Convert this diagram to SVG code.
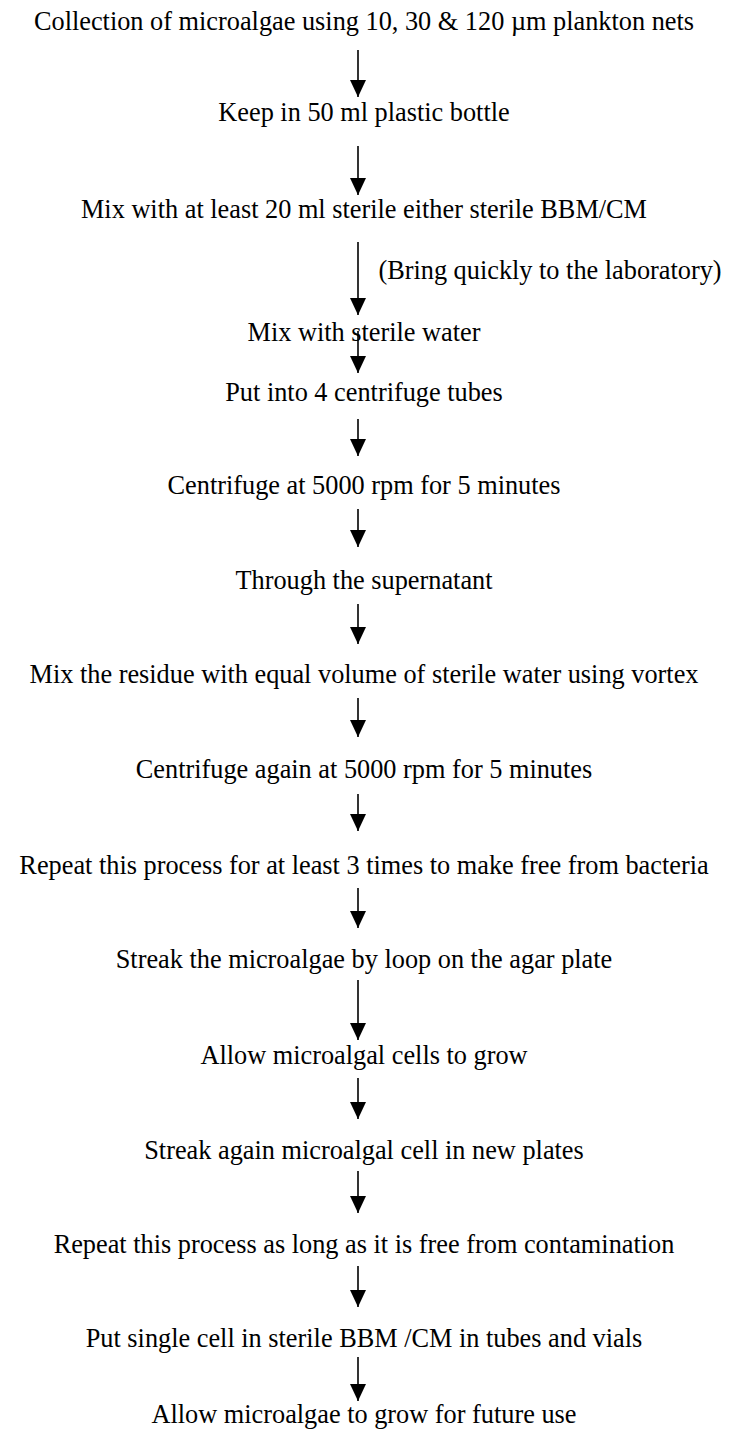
<svg xmlns="http://www.w3.org/2000/svg" width="730" height="1432" viewBox="0 0 730 1432">
<style>
text{font-family:"Liberation Serif","Times New Roman",serif;font-size:26.3px;fill:#000;text-anchor:middle}
.c line{stroke:#000;stroke-width:1.6}
</style>
<defs>
<marker id="ah" viewBox="0 0 17 16" refX="17" refY="8" markerWidth="17" markerHeight="16" markerUnits="userSpaceOnUse" orient="auto">
<path d="M0,0 L17,8 L0,16 Z" fill="#000"/>
</marker>
</defs>
<rect width="730" height="1432" fill="#fff"/>
<g id="n1"><text x="364" y="30">Collection of microalgae using 10, 30 &amp; 120 µm plankton nets</text></g>
<g id="n2"><text x="364" y="121">Keep in 50 ml plastic bottle</text></g>
<g id="n3"><text x="364" y="218">Mix with at least 20 ml sterile either sterile BBM/CM</text></g>
<g id="n4"><text x="550" y="279">(Bring quickly to the laboratory)</text></g>
<g id="n5"><text x="364" y="341">Mix with sterile water</text></g>
<g id="n6"><text x="364" y="401">Put into 4 centrifuge tubes</text></g>
<g id="n7"><text x="364" y="494">Centrifuge at 5000 rpm for 5 minutes</text></g>
<g id="n8"><text x="364" y="589">Through the supernatant</text></g>
<g id="n9"><text x="364" y="683">Mix the residue with equal volume of sterile water using vortex</text></g>
<g id="n10"><text x="364" y="778">Centrifuge again at 5000 rpm for 5 minutes</text></g>
<g id="n11"><text x="364" y="874">Repeat this process for at least 3 times to make free from bacteria</text></g>
<g id="n12"><text x="364" y="968">Streak the microalgae by loop on the agar plate</text></g>
<g id="n13"><text x="364" y="1064">Allow microalgal cells to grow</text></g>
<g id="n14"><text x="364" y="1159">Streak again microalgal cell in new plates</text></g>
<g id="n15"><text x="364" y="1253">Repeat this process as long as it is free from contamination</text></g>
<g id="n16"><text x="364" y="1347">Put single cell in sterile BBM /CM in tubes and vials</text></g>
<g id="n17"><text x="364" y="1423">Allow microalgae to grow for future use</text></g>
<g id="connectors" class="c">
<line x1="358" y1="50" x2="358" y2="97" marker-end="url(#ah)"/>
<line x1="358" y1="146" x2="358" y2="195" marker-end="url(#ah)"/>
<line x1="358" y1="242" x2="358" y2="315" marker-end="url(#ah)"/>
<line x1="358" y1="331" x2="358" y2="373" marker-end="url(#ah)"/>
<line x1="358" y1="419" x2="358" y2="456" marker-end="url(#ah)"/>
<line x1="358" y1="509" x2="358" y2="547" marker-end="url(#ah)"/>
<line x1="358" y1="604" x2="358" y2="644" marker-end="url(#ah)"/>
<line x1="358" y1="698" x2="358" y2="737" marker-end="url(#ah)"/>
<line x1="358" y1="794" x2="358" y2="831" marker-end="url(#ah)"/>
<line x1="358" y1="888" x2="358" y2="928" marker-end="url(#ah)"/>
<line x1="358" y1="980" x2="358" y2="1040" marker-end="url(#ah)"/>
<line x1="358" y1="1078" x2="358" y2="1119" marker-end="url(#ah)"/>
<line x1="358" y1="1171" x2="358" y2="1213" marker-end="url(#ah)"/>
<line x1="358" y1="1266" x2="358" y2="1307" marker-end="url(#ah)"/>
<line x1="358" y1="1357" x2="358" y2="1401" marker-end="url(#ah)"/>
</g>
</svg>
